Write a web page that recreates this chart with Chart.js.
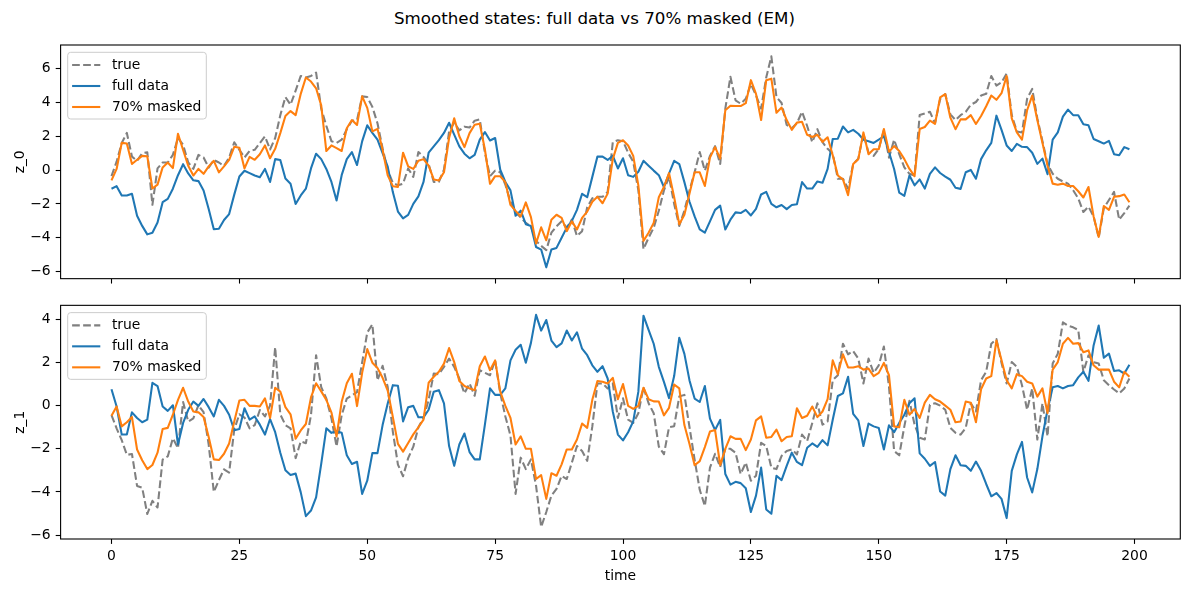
<!DOCTYPE html>
<html><head><meta charset="utf-8">
<script src="https://cdn.jsdelivr.net/npm/chart.js@4.4.1/dist/chart.umd.min.js"></script>
<style>
html,body{margin:0;padding:0;background:#fff;}
#wrap{position:relative;width:1189px;height:592px;overflow:hidden;background:#fff;}
#title{position:absolute;left:0;top:9px;width:1189px;text-align:center;font-family:'DejaVu Sans';font-size:16.7px;line-height:19px;color:#000;}
canvas{position:absolute;left:0;}
</style></head><body>
<div id="wrap">
<div id="title">Smoothed states: full data vs 70% masked (EM)</div>
<canvas id="c0" width="1189" height="292" style="top:0px"></canvas>
<canvas id="c1" width="1189" height="300" style="top:292px"></canvas>
</div>
<script>
// time index (categories)
const time = Array.from({length: 200}, (_, i) => i);
const xTicks = [0, 25, 50, 75, 100, 125, 150, 175, 200];
const yTicksTop = [-6, -4, -2, 0, 2, 4, 6];
const yTicksBottom = [-6, -4, -2, 0, 2, 4];
const seriesLabels = ['true', 'full data', '70% masked'];

const z0True = [
-0.35,0.5,1.6,2.2,0.8,0.55,1.0,1.05,-2.05,0.1,
0.45,0.45,0.9,1.9,1.5,0.45,0.07,0.9,0.75,0.15,
0.6,0.45,0.25,0.75,1.65,1.2,0.75,1.13,1.2,1.6,
2.0,1.22,1.9,3.25,4.32,3.87,4.7,5.57,5.48,5.57,
5.77,3.64,2.62,1.71,1.61,1.8,2.42,2.92,2.96,4.36,
4.32,3.74,2.77,1.3,0.0,-0.75,-0.9,-0.8,0.1,-0.4,
1.07,0.78,0.36,-0.7,-0.7,0.03,2.29,2.8,2.35,2.57,
2.52,2.92,3.0,1.03,-0.36,-0.03,-0.13,-0.86,-1.87,-2.49,
-2.8,-3.12,-3.32,-4.19,-4.48,-4.73,-3.7,-3.32,-3.03,-3.41,
-2.93,-3.9,-3.61,-2.2,-1.67,-1.58,-1.58,-1.29,1.65,1.77,
1.71,1.03,0.49,-1.19,-4.67,-4.0,-3.41,-2.4,-1.2,-0.4,
-2.0,-3.3,-2.4,-1.2,-0.13,1.07,-0.03,0.84,1.42,0.36,
3.64,5.52,4.13,3.93,4.22,5.09,4.42,3.64,5.48,6.73,
4.32,3.97,2.67,2.48,2.77,3.45,2.61,1.65,2.42,1.65,
1.26,0.98,-0.51,-0.51,-1.09,0.36,0.68,2.15,1.03,0.84,
1.26,2.35,0.74,1.8,0.94,0.16,-0.22,-0.32,3.26,3.35,
3.45,2.77,4.2,4.5,3.3,2.96,3.25,3.45,3.87,4.03,
4.41,4.51,5.57,5.0,5.19,5.71,3.25,2.29,2.23,4.22,
4.8,3.06,1.71,0.36,-0.22,-0.51,-0.67,-0.8,-1.19,-1.67,
-2.48,-2.16,-2.74,-4.0,-2.25,-1.77,-1.29,-2.93,-2.54,-2.1];

const z0Full = [
-1.1,-0.95,-1.5,-1.5,-1.4,-2.7,-3.3,-3.8,-3.7,-3.1,
-1.9,-1.7,-1.1,-0.3,0.35,-0.2,-0.6,-0.65,-1.2,-2.3,
-3.5,-3.47,-2.95,-2.6,-1.45,-0.38,-0.04,-0.18,-0.32,-0.42,
0.07,-0.7,0.65,0.6,-0.5,-0.8,-2.0,-1.5,-1.1,0.1,
0.97,0.65,0.07,-0.7,-1.8,-0.3,0.65,1.07,0.3,1.7,
2.65,2.2,1.8,1.0,0.2,-1.3,-2.45,-2.85,-2.65,-2.0,
-1.55,-0.7,1.03,1.4,1.77,2.2,2.8,2.1,1.4,0.97,
0.7,0.9,1.8,2.25,1.75,1.9,0.02,-0.7,-1.2,-2.7,
-2.4,-3.2,-3.3,-4.55,-4.7,-5.75,-4.7,-4.6,-4.0,-3.4,
-3.0,-2.35,-1.4,-1.6,-0.4,0.8,0.8,0.6,0.85,0.1,
0.7,-0.3,-0.4,-0.1,0.55,0.26,-0.03,-0.3,-1.0,-0.2,
0.55,0.36,-0.71,-1.87,-2.74,-3.51,-3.7,-3.03,-2.35,-2.1,
-3.51,-2.93,-2.5,-2.54,-2.35,-2.68,-2.29,-1.44,-1.29,-2.0,
-2.2,-2.06,-2.31,-2.06,-2.02,-0.71,-1.09,-1.09,-0.67,-0.75,
0.07,1.84,1.86,2.58,2.23,2.38,2.15,1.8,1.71,1.61,
1.8,2.0,1.07,0.07,-1.33,-1.52,-0.32,-0.9,-0.55,-1.09,
-0.22,0.16,-0.17,-0.38,-0.57,-1.04,-1.11,-0.13,0.01,-0.51,
0.65,1.17,1.61,3.22,2.38,1.46,1.13,1.55,1.38,1.36,
1.03,0.37,0.68,-0.24,1.8,2.23,3.16,3.58,3.25,3.25,
2.71,2.65,1.84,1.71,1.57,1.73,0.94,0.88,1.36,1.23];

const z0Masked = [
-0.61,0.07,1.61,1.57,0.36,0.61,0.84,0.82,-1.09,-0.86,
0.16,0.45,0.12,2.15,1.19,0.26,-0.32,0.07,-0.22,0.22,
0.55,-0.13,0.22,0.61,1.38,1.32,0.1,0.78,0.61,0.94,
1.46,0.7,1.26,2.19,3.2,3.49,3.25,4.51,5.48,5.24,
4.84,3.83,1.13,1.46,1.3,1.13,2.48,2.96,2.67,4.36,
3.68,2.29,2.44,1.2,-0.3,-0.95,-0.99,1.03,0.22,0.07,
0.55,0.65,0.26,-0.55,-0.61,-0.13,1.9,3.06,2.0,1.36,
2.19,2.68,2.74,1.22,-0.81,-0.36,-0.36,-0.71,-2.06,-2.41,
-2.74,-1.91,-2.78,-4.34,-3.38,-4.15,-2.93,-2.64,-2.83,-3.61,
-3.03,-3.51,-2.83,-2.45,-1.87,-1.58,-1.96,-1.39,0.65,1.61,
1.77,1.46,0.84,-0.9,-4.19,-3.7,-3.12,-1.6,-1.0,-0.18,
-1.6,-3.2,-2.64,-1.38,-0.13,-0.13,-0.94,0.74,1.36,0.68,
3.54,3.81,3.79,3.79,3.96,5.32,4.51,2.96,5.32,5.41,
3.39,3.7,2.96,2.38,2.81,2.86,2.09,1.96,2.09,1.67,
1.94,0.88,-0.32,-0.55,-1.48,0.36,0.65,2.23,0.94,1.23,
1.23,2.43,1.09,1.42,1.13,0.65,0.07,-0.36,2.43,2.55,
2.93,2.74,4.3,4.5,3.1,2.42,3.0,3.0,3.25,2.73,
3.2,3.78,4.41,4.16,4.55,5.57,3.06,2.23,1.8,3.54,
4.41,2.96,1.61,0.26,-0.8,-0.86,-0.8,-0.94,-0.94,-1.25,
-1.62,-1.0,-2.74,-3.95,-2.12,-2.35,-1.58,-1.54,-1.44,-1.9];

const z1True = [
-0.44,-1.05,-1.6,-2.28,-2.24,-3.72,-3.8,-5.02,-4.41,-4.72,
-2.5,-2.35,-1.51,-1.97,0.17,-0.74,-0.59,0.02,-0.3,-1.8,
-4.0,-3.45,-2.95,-3.1,-1.1,-0.4,-0.55,-1.05,-0.9,-0.2,
-0.5,0.0,2.71,-0.4,-0.9,-1.05,-2.43,-1.66,-1.74,-0.44,
2.34,0.86,0.33,-0.59,-1.89,-0.44,0.33,0.48,0.63,2.0,
3.39,3.77,1.17,1.85,0.86,-1.2,-2.73,-3.27,-2.43,-1.9,
-1.0,-0.57,0.27,1.49,1.46,1.8,2.18,1.8,1.26,0.57,
1.03,0.46,1.64,1.52,1.41,2.1,0.57,-0.5,-1.39,-4.09,
-2.41,-2.94,-2.49,-3.71,-5.62,-4.93,-4.17,-3.86,-3.25,-3.4,
-2.64,-1.87,-2.1,-2.56,-0.96,1.03,1.03,0.8,1.03,-0.57,
0.34,-0.65,-0.8,-0.35,0.85,0.11,-0.35,-1.9,-2.25,-1.0,
-0.95,0.42,0.5,-1.0,-2.5,-3.9,-4.65,-2.87,-2.23,-2.85,
-2.0,-2.0,-2.18,-3.17,-2.64,-3.48,-3.25,-1.72,-1.87,-2.87,
-2.94,-2.33,-2.1,-2.03,-2.26,-1.34,-1.64,-0.8,0.11,-0.88,
-0.73,1.18,1.41,2.87,2.38,2.53,2.18,1.03,2.18,1.52,
1.87,2.74,0.88,-2.1,-2.3,-0.96,0.23,-0.88,-1.49,-1.57,
0.04,0.11,0.0,-0.19,-1.03,-1.26,-1.34,-1.03,0.11,-0.27,
1.18,1.57,2.87,3.09,1.98,1.03,2.02,1.8,0.95,-0.19,
0.8,-1.57,0.11,-1.42,1.95,2.41,3.86,3.7,3.63,3.51,
1.57,2.33,2.02,1.95,1.18,0.95,0.75,0.57,0.8,1.26];

const z1Full = [
0.76,-0.04,-1.34,-1.34,-0.31,-0.57,-0.77,-0.65,1.06,0.91,
-0.04,-0.24,0.02,-1.8,-0.8,-0.19,0.19,-0.01,0.31,-0.07,
-0.5,0.27,-0.01,-0.42,-1.14,-1.08,-0.12,-0.65,-0.5,-0.88,
-1.34,-0.62,-1.23,-2.18,-2.99,-3.21,-3.15,-4.02,-5.12,-4.86,
-4.25,-2.7,-1.05,-1.26,-1.19,-1.25,-2.3,-2.7,-2.6,-4.09,
-3.48,-2.2,-2.2,-0.9,0.1,0.95,0.92,-0.73,-0.07,-0.01,
-0.54,-0.54,-0.19,0.65,0.72,0.11,-1.87,-2.79,-1.8,-1.29,
-2.15,-2.49,-2.49,-0.88,0.8,0.5,0.5,0.8,2.1,2.59,
2.82,1.99,2.91,4.21,3.48,3.97,3.02,2.71,2.89,3.48,
3.02,3.4,2.64,2.34,1.87,1.57,1.83,1.26,-0.27,-1.34,
-1.61,-1.23,-0.73,0.65,4.17,3.51,2.87,1.8,1.1,0.35,
1.37,3.15,2.4,1.17,0.33,0.17,0.91,-0.6,-1.13,-0.66,
-3.17,-3.66,-3.53,-3.59,-3.83,-4.93,-4.17,-2.87,-4.81,-5.01,
-3.25,-3.45,-2.79,-2.18,-2.61,-2.76,-1.95,-1.75,-1.91,-1.6,
-1.84,-0.65,0.45,0.57,1.34,-0.38,-0.68,-1.87,-0.83,-0.96,
-1.03,-2.03,-0.91,-1.23,-0.8,-0.42,0.11,0.34,-2.21,-2.46,
-2.79,-2.61,-3.98,-4.17,-2.94,-2.3,-2.76,-2.79,-3.02,-2.59,
-3.02,-3.63,-4.2,-4.05,-4.32,-5.21,-3.02,-2.26,-1.68,-3.33,
-4.02,-2.94,-1.42,-0.19,0.85,0.91,0.8,0.91,0.95,1.31,
1.57,1.15,2.79,3.71,2.22,2.41,1.61,1.64,1.49,1.9];

const z1Masked = [
-0.47,-0.04,-0.96,-0.77,-0.53,-2.03,-2.53,-2.94,-2.75,-2.18,
-1.08,-1.03,-0.42,0.27,0.83,0.19,-0.27,-0.31,-0.53,-1.45,
-2.49,-2.52,-2.23,-1.75,-0.73,0.24,0.27,-0.01,-0.01,-0.04,
0.34,-0.57,0.83,0.65,-0.07,-0.4,-1.53,-1.15,-0.85,0.38,
1.04,0.66,0.27,-0.32,-1.43,0.18,1.04,1.48,-0.02,1.52,
2.62,1.99,1.75,1.29,0.7,-0.52,-1.77,-2.13,-1.73,-1.33,
-1.0,-0.65,1.06,1.34,1.57,1.95,2.67,2.02,1.14,0.91,
0.8,0.72,1.83,2.28,1.64,2.1,0.65,-0.01,-0.57,-1.8,
-1.42,-2.0,-2.0,-3.4,-3.22,-4.32,-3.13,-3.25,-2.72,-2.03,
-2.03,-1.57,-0.83,-1.03,0.27,1.14,1.11,1.03,1.29,0.3,
1.0,-0.01,-0.15,-0.01,0.83,0.3,0.2,0.19,-0.45,-0.1,
0.98,0.8,-0.9,-1.78,-2.76,-2.57,-1.92,-1.2,-1.13,-2.75,
-2.0,-1.42,-1.54,-1.54,-2.06,-1.57,-0.68,-0.5,-1.49,-1.45,
-1.11,-1.65,-1.45,-1.42,-0.12,-0.57,-0.47,-0.04,-0.53,-0.27,
0.3,2.1,1.46,2.38,1.77,1.77,1.83,1.67,1.72,1.37,
1.52,1.98,1.41,-0.96,-1.0,0.27,-0.42,-0.15,-0.57,0.14,
0.5,0.3,0.19,0.0,-0.19,-0.77,-0.73,0.19,0.14,-0.77,
0.76,1.26,1.37,3.02,2.1,1.18,0.8,1.46,1.37,1.11,
1.03,0.42,0.8,-0.35,1.67,2.02,2.87,3.14,2.87,2.9,
2.48,2.56,1.87,1.67,1.67,1.67,1.11,0.85,1.57,1.34];

const FONT = 'DejaVu Sans';
const FS = 13.9;
const LW = 2.08;          // 1.5 pt at 100 dpi
const DASH = [7.7, 3.33]; // matplotlib '--' scaled by linewidth
const fmt = v => String(v).replace('-', '\u2212');

const framePlugin = {
  id: 'frame',
  afterDatasetsDraw(chart) {
    const {ctx, chartArea: a} = chart;
    ctx.save();
    ctx.strokeStyle = '#000';
    ctx.lineWidth = 1.1;
    ctx.strokeRect(a.left, a.top, a.right - a.left, a.bottom - a.top);
    ctx.restore();
  }
};

const legendPlugin = {
  id: 'mplLegend',
  afterDraw(chart) {
    const {ctx, chartArea: a} = chart;
    const x0 = a.left + 7.1, y0 = a.top + 7.3, w = 138.6, h = 66.7, r = 3;
    ctx.save();
    ctx.beginPath();
    ctx.moveTo(x0 + r, y0);
    ctx.lineTo(x0 + w - r, y0); ctx.arcTo(x0 + w, y0, x0 + w, y0 + r, r);
    ctx.lineTo(x0 + w, y0 + h - r); ctx.arcTo(x0 + w, y0 + h, x0 + w - r, y0 + h, r);
    ctx.lineTo(x0 + r, y0 + h); ctx.arcTo(x0, y0 + h, x0, y0 + h - r, r);
    ctx.lineTo(x0, y0 + r); ctx.arcTo(x0, y0, x0 + r, y0, r);
    ctx.closePath();
    ctx.fillStyle = 'rgba(255,255,255,0.8)';
    ctx.fill();
    ctx.strokeStyle = '#cccccc';
    ctx.lineWidth = 1;
    ctx.stroke();
    ctx.font = FS + 'px "' + FONT + '"';
    ctx.textBaseline = 'middle';
    ctx.textAlign = 'left';
    chart.data.datasets.forEach((ds, i) => {
      const yy = y0 + 12.7 + i * 21;
      ctx.beginPath();
      ctx.setLineDash(ds.borderDash || []);
      ctx.strokeStyle = ds.borderColor;
      ctx.lineWidth = ds.borderWidth;
      ctx.moveTo(x0 + 4.4, yy);
      ctx.lineTo(x0 + 32.6, yy);
      ctx.stroke();
      ctx.setLineDash([]);
      ctx.fillStyle = '#000';
      ctx.fillText(ds.label, x0 + 44.2, yy);
    });
    ctx.restore();
  }
};

function makeDatasets(tr, fu, ma) {
  const pts = arr => arr.map((v, i) => ({x: time[i], y: v}));
  return [
    {label: seriesLabels[0], data: pts(tr), borderColor: '#808080', borderWidth: LW, borderDash: DASH, pointRadius: 0, order: 3, fill: false},
    {label: seriesLabels[1], data: pts(fu), borderColor: '#1f77b4', borderWidth: LW, pointRadius: 0, order: 2, fill: false},
    {label: seriesLabels[2], data: pts(ma), borderColor: '#ff7f0e', borderWidth: LW, pointRadius: 0, order: 1, fill: false}
  ];
}

function makeChart(id, datasets, yMin, yMax, yTicks, yTitle, showX, pad, xHeight) {
  return new Chart(document.getElementById(id), {
    type: 'line',
    data: {datasets},
    options: {
      responsive: false,
      animation: false,
      devicePixelRatio: 1,
      layout: {padding: pad},
      plugins: {legend: {display: false}, tooltip: {enabled: false}, title: {display: false}},
      elements: {line: {tension: 0, borderCapStyle: 'butt', borderJoinStyle: 'round'}},
      scales: {
        x: {
          type: 'linear', min: -9.95, max: 208.95,
          afterBuildTicks: s => { s.ticks = xTicks.map(v => ({value: v})); },
          afterFit: s => { s.height = xHeight; },
          grid: {display: true, drawOnChartArea: false, drawTicks: true, tickLength: 4.9, tickWidth: 1.1, tickColor: '#000'},
          border: {display: false},
          ticks: {display: showX, color: '#000', font: {family: FONT, size: FS}, padding: 4, maxRotation: 0, autoSkip: false, callback: v => fmt(v)},
          title: {display: showX, text: 'time', color: '#000', font: {family: FONT, size: FS}, padding: {top: 4, bottom: 4}}
        },
        y: {
          type: 'linear', min: yMin, max: yMax,
          afterBuildTicks: s => { s.ticks = yTicks.map(v => ({value: v})); },
          afterFit: s => { s.width = 53; },
          grid: {display: true, drawOnChartArea: false, drawTicks: true, tickLength: 4.9, tickWidth: 1.1, tickColor: '#000'},
          border: {display: false},
          ticks: {color: '#000', font: {family: FONT, size: FS}, padding: 5, autoSkip: false, callback: v => fmt(v)},
          title: {display: true, text: yTitle, color: '#000', font: {family: FONT, size: FS}, padding: {top: 4, bottom: 4}}
        }
      }
    },
    plugins: [framePlugin, legendPlugin]
  });
}

makeChart('c0', makeDatasets(z0True, z0Full, z0Masked), -6.42, 7.4, yTicksTop, 'z_0', false,
  {left: 7.6, right: 8.7, top: 45, bottom: 0}, 9.7);
makeChart('c1', makeDatasets(z1True, z1Full, z1Masked), -6.18, 4.65, yTicksBottom, 'z_1', true,
  {left: 7.6, right: 8.7, top: 10.7, bottom: 3.6}, 49.4);
</script>
</body></html>
